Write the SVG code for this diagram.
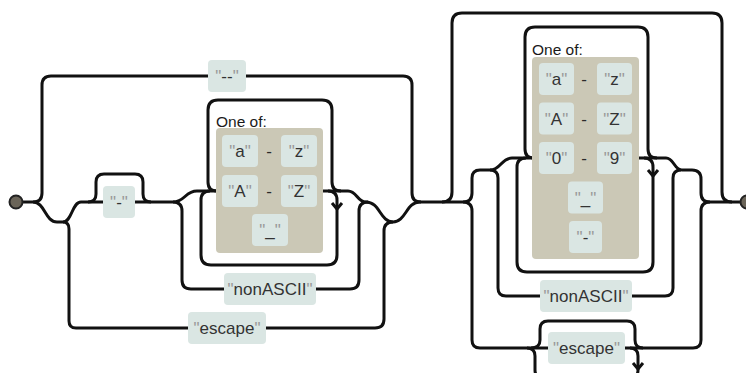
<svg xmlns="http://www.w3.org/2000/svg" width="746" height="373" viewBox="0 0 746 373">
  <defs>
    <style>
      .ln { fill: none; stroke: #111; stroke-width: 3; stroke-linejoin: round; }
      .box { fill: #dae6e3; }
      .panel { fill: #cbc8b6; }
      .t { font-family: "Liberation Sans", Arial, sans-serif; font-size: 17px; fill: #333; text-anchor: middle; }
      .q { fill: #999; }
      .lbl { font-family: "Liberation Sans", Arial, sans-serif; font-size: 15.5px; fill: #1a1a1a; }
      .dash { font-family: "Liberation Sans", Arial, sans-serif; font-size: 17px; fill: #2a2a2a; text-anchor: middle; }
      .dot { fill: #6a6458; stroke: #222; stroke-width: 2; }
    </style>
  </defs>

  <rect width="746" height="373" fill="#ffffff"/>

  <g id="connectors" class="ln">
    <!-- first part: double dash, or optional hyphen then a letter, nonASCII or escape -->
    <path d="M 22 202 H 33"/>
    <path d="M 33 202 Q 42 202 42 193 V 85 Q 42 76 51 76 H 208"/>
    <path d="M 246 76 H 403 Q 412 76 412 85 V 193 Q 412 202 421 202"/>
    <path d="M 33 202 C 45 202 45 222 57 222 H 63"/>
    <path d="M 63 222 C 72 222 72 202 81 202 H 103"/>
    <path d="M 135 202 H 173"/>
    <path d="M 88 202 Q 96 202 96 194 V 182 Q 96 174 104 174 H 135 Q 143 174 143 182 V 194 Q 143 202 151 202"/>
    <path d="M 63 222 Q 69 222 69 229 V 321 Q 69 328 76 328 H 188"/>
    <path d="M 266 328 H 375 Q 384 328 384 319 V 231 Q 384 222 393 222"/>
    <path d="M 173 202 C 185 202 185 191 197 191 H 216"/>
    <path d="M 173 202 Q 182 202 182 211 V 280 Q 182 289 191 289 H 224"/>
    <path d="M 316 289 H 350 Q 359 289 359 280 V 211 Q 359 202 368 202"/>
    <path d="M 217 191 Q 208 191 208 182 V 110 Q 208 100 218 100 H 322 Q 332 100 332 110 V 182 Q 332 191 341 191"/>
    <path d="M 210 191 Q 201 191 201 200 V 255 Q 201 265 211 265 H 327 Q 337 265 337 255 V 200 Q 337 191 328 191"/>
    <path d="M 332 203 L 337 209 L 342 203"/>
    <path d="M 323 191 H 348 C 357 191 357 202 366 202 C 380 202 380 222 393 222"/>
    <path d="M 393 222 C 406 222 406 202 420 202 H 463"/>

    <!-- second part: repeated letters, digits, underscore, hyphen, nonASCII or escape -->
    <path d="M 442 202 Q 452 202 452 192 V 23 Q 452 13 462 13 H 712 Q 722 13 722 23 V 192 Q 722 202 732 202"/>
    <path d="M 463 202 Q 472 202 472 193 V 178 Q 472 170 480 170 H 490"/>
    <path d="M 490 170 C 501 170 501 158 512 158 H 532"/>
    <path d="M 490 170 Q 498 170 498 178 V 288 Q 498 296 506 296 H 540"/>
    <path d="M 632 296 H 665 Q 673 296 673 288 V 178 Q 673 170 681 170"/>
    <path d="M 534 158 Q 525 158 525 149 V 37 Q 525 27 535 27 H 638 Q 648 27 648 37 V 149 Q 648 158 657 158"/>
    <path d="M 526 158 Q 517 158 517 167 V 262 Q 517 272 527 272 H 643 Q 653 272 653 262 V 167 Q 653 158 644 158"/>
    <path d="M 648 170 L 653 176 L 658 170"/>
    <path d="M 639 158 H 666 C 674 158 674 170 682 170 H 692 Q 701 170 701 179 V 193 Q 701 202 710 202"/>
    <path d="M 463 202 Q 472 202 472 211 V 340 Q 472 348 480 348 H 548"/>
    <path d="M 531 348 Q 540 348 540 340 V 329 Q 540 321 548 321 H 627 Q 635 321 635 329 V 340 Q 635 348 643 348"/>
    <path d="M 527 348 Q 535 348 535 356 V 370 Q 535 378 543 378 H 630 Q 638 378 638 370 V 356 Q 638 348 630 348"/>
    <path d="M 633 363 L 638 369 L 643 363"/>
    <path d="M 625 348 H 693 Q 701 348 701 340 V 211 Q 701 202 710 202 H 741"/>
  </g>

  <g id="start">
    <circle class="dot" cx="16" cy="202" r="6.5"/>
  </g>

  <g id="t-double-dash">
    <rect class="box" x="208" y="60" width="38" height="32" rx="4"/>
    <text class="t" x="227" y="82"><tspan class="q">"</tspan>--<tspan class="q">"</tspan></text>
  </g>

  <g id="t-hyphen">
    <rect class="box" x="103" y="186" width="32" height="32" rx="4"/>
    <text class="t" x="119" y="208"><tspan class="q">"</tspan>-<tspan class="q">"</tspan></text>
  </g>

  <g id="oneof-start">
    <text class="lbl" x="216" y="127">One of:</text>
    <rect class="panel" x="216" y="128" width="107" height="125" rx="4"/>
    <rect class="box" x="222" y="135" width="36" height="32" rx="4"/>
    <text class="t" x="240" y="157"><tspan class="q">"</tspan>a<tspan class="q">"</tspan></text>
    <text class="dash" x="269" y="157">-</text>
    <rect class="box" x="281" y="135" width="36" height="32" rx="4"/>
    <text class="t" x="299" y="157"><tspan class="q">"</tspan>z<tspan class="q">"</tspan></text>
    <rect class="box" x="222" y="175" width="36" height="32" rx="4"/>
    <text class="t" x="240" y="197"><tspan class="q">"</tspan>A<tspan class="q">"</tspan></text>
    <text class="dash" x="269" y="197">-</text>
    <rect class="box" x="281" y="175" width="36" height="32" rx="4"/>
    <text class="t" x="299" y="197"><tspan class="q">"</tspan>Z<tspan class="q">"</tspan></text>
    <rect class="box" x="252" y="214" width="36" height="32" rx="4"/>
    <text class="t" x="270" y="236"><tspan class="q">"</tspan>_<tspan class="q">"</tspan></text>
  </g>

  <g id="t-nonascii-start">
    <rect class="box" x="224" y="273" width="92" height="32" rx="4"/>
    <text class="t" x="270" y="295"><tspan class="q">"</tspan>nonASCII<tspan class="q">"</tspan></text>
  </g>

  <g id="t-escape-start">
    <rect class="box" x="188" y="312" width="78" height="32" rx="4"/>
    <text class="t" x="227" y="334"><tspan class="q">"</tspan>escape<tspan class="q">"</tspan></text>
  </g>

  <g id="oneof-rest">
    <text class="lbl" x="532" y="55">One of:</text>
    <rect class="panel" x="532" y="57" width="107" height="202" rx="4"/>
    <rect class="box" x="539" y="63" width="35" height="32" rx="4"/>
    <text class="t" x="556.5" y="85"><tspan class="q">"</tspan>a<tspan class="q">"</tspan></text>
    <text class="dash" x="584" y="85">-</text>
    <rect class="box" x="597" y="63" width="35" height="32" rx="4"/>
    <text class="t" x="614.5" y="85"><tspan class="q">"</tspan>z<tspan class="q">"</tspan></text>
    <rect class="box" x="539" y="102.5" width="35" height="32" rx="4"/>
    <text class="t" x="556.5" y="124.5"><tspan class="q">"</tspan>A<tspan class="q">"</tspan></text>
    <text class="dash" x="584" y="124.5">-</text>
    <rect class="box" x="597" y="102.5" width="35" height="32" rx="4"/>
    <text class="t" x="614.5" y="124.5"><tspan class="q">"</tspan>Z<tspan class="q">"</tspan></text>
    <rect class="box" x="539" y="142" width="35" height="32" rx="4"/>
    <text class="t" x="556.5" y="164"><tspan class="q">"</tspan>0<tspan class="q">"</tspan></text>
    <text class="dash" x="584" y="164">-</text>
    <rect class="box" x="597" y="142" width="35" height="32" rx="4"/>
    <text class="t" x="614.5" y="164"><tspan class="q">"</tspan>9<tspan class="q">"</tspan></text>
    <rect class="box" x="568" y="181.5" width="35" height="32" rx="4"/>
    <text class="t" x="585.5" y="203.5"><tspan class="q">"</tspan>_<tspan class="q">"</tspan></text>
    <rect class="box" x="569" y="221" width="33" height="32" rx="4"/>
    <text class="t" x="585.5" y="243"><tspan class="q">"</tspan>-<tspan class="q">"</tspan></text>
  </g>

  <g id="t-nonascii-rest">
    <rect class="box" x="540" y="280" width="92" height="32" rx="4"/>
    <text class="t" x="586" y="302"><tspan class="q">"</tspan>nonASCII<tspan class="q">"</tspan></text>
  </g>

  <g id="t-escape-rest">
    <rect class="box" x="548" y="332" width="77" height="32" rx="4"/>
    <text class="t" x="586.5" y="354"><tspan class="q">"</tspan>escape<tspan class="q">"</tspan></text>
  </g>

  <g id="end">
    <circle class="dot" cx="747" cy="202" r="6.5"/>
  </g>
</svg>
